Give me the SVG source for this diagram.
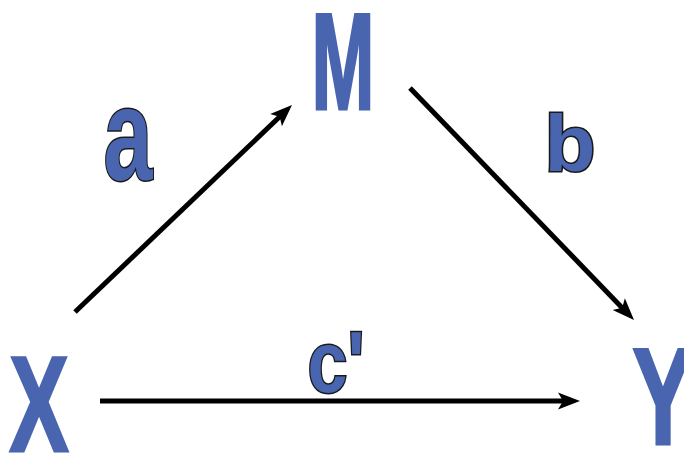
<svg xmlns="http://www.w3.org/2000/svg" width="684" height="456" viewBox="0 0 684 456">
<style>
.big{font-family:"Liberation Sans",Arial,sans-serif;font-weight:bold;fill:#4a65b0;stroke:#4a65b0;stroke-width:3;text-anchor:middle}
.lab{font-family:"Liberation Sans",Arial,sans-serif;font-weight:bold;fill:#4a65b0;stroke:#1a1a1a;stroke-width:3;paint-order:stroke;text-anchor:middle}
.con{stroke:#000;stroke-width:5;fill:none;marker-end:url(#ah)}
</style>
<defs>
<marker id="ah" markerUnits="userSpaceOnUse" viewBox="-12 -10 26 20" refX="0" refY="0" markerWidth="26" markerHeight="20" orient="auto" overflow="visible">
<path d="M12,0 L-10,-8.5 L-5,0 L-10,8.5 Z" fill="#000"/>
</marker>
</defs>
<g id="connectors">
<line class="con" x1="75" y1="312" x2="283.3" y2="113.3"/>
<line class="con" x1="410" y1="88" x2="625.7" y2="311.4"/>
<line class="con" x1="100" y1="401" x2="568" y2="401"/>
</g>
<g id="M"><text class="big" x="343" y="108.5" font-size="138" textLength="63" lengthAdjust="spacingAndGlyphs">M</text></g>
<g id="X"><text class="big" x="39" y="450.5" font-size="136" textLength="59" lengthAdjust="spacingAndGlyphs">X</text></g>
<g id="Y"><text class="big" x="663" y="443.5" font-size="138" textLength="61" lengthAdjust="spacingAndGlyphs">Y</text></g>
<g id="a"><text class="lab" x="128" y="180" font-size="132" textLength="49" lengthAdjust="spacingAndGlyphs">a</text></g>
<g id="b"><text class="lab" x="570" y="171" font-size="80" textLength="51" lengthAdjust="spacingAndGlyphs">b</text></g>
<g id="c"><text class="lab" x="336" y="392" font-size="87" textLength="57" lengthAdjust="spacingAndGlyphs">c'</text></g>
</svg>
